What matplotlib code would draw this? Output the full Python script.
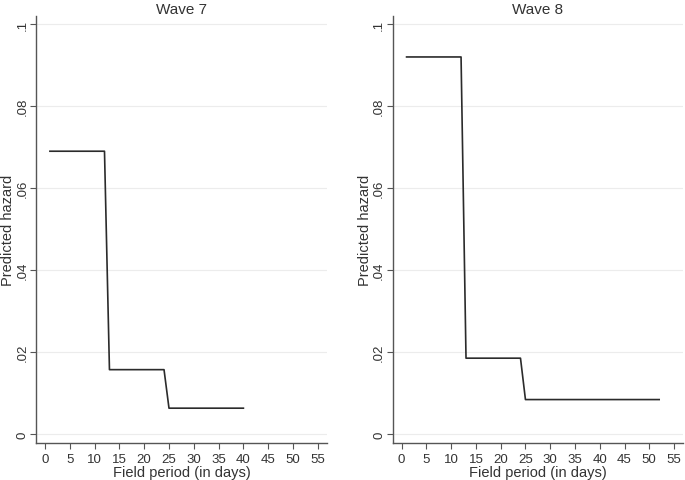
import matplotlib.pyplot as plt

plt.rcParams['font.family'] = ['Liberation Sans', 'DejaVu Sans']

days_w7 = [1, 12, 13, 24, 25, 40]
hazard_w7 = [0.069, 0.069, 0.0157, 0.0157, 0.0063, 0.0063]
days_w8 = [1, 12, 13, 24, 25, 52]
hazard_w8 = [0.092, 0.092, 0.0185, 0.0185, 0.0084, 0.0084]

titles = ["Wave 7", "Wave 8"]
xticks = list(range(0, 60, 5))
yticks = [0, 0.02, 0.04, 0.06, 0.08, 0.1]
ylabels = ["0", ".02", ".04", ".06", ".08", ".1"]

fig = plt.figure(figsize=(6.85, 4.81), dpi=100)
ax1 = fig.add_axes([0.0526, 0.0769, 0.4244, 0.8878])
ax2 = fig.add_axes([0.5733, 0.0769, 0.4237, 0.8878])

txt = '#333333'
for ax, x, y, t in [(ax1, days_w7, hazard_w7, titles[0]),
                    (ax2, days_w8, hazard_w8, titles[1])]:
    ax.plot(x, y, color='#2b2b2b', lw=1.2)
    ax.set_xlim(-1.8, 56.8)
    ax.set_ylim(-0.0022, 0.102)
    ax.set_xticks(xticks)
    ax.set_yticks(yticks)
    ax.set_yticklabels(ylabels, rotation=90, va='center')
    ax.grid(axis='y', color='#ececec', lw=0.8)
    ax.set_axisbelow(True)
    for s in ['top', 'right']:
        ax.spines[s].set_visible(False)
    for s in ['left', 'bottom']:
        ax.spines[s].set_color('#555555')
        ax.spines[s].set_linewidth(1.0)
    ax.tick_params(colors='#555555', labelcolor=txt, labelsize=9.5, length=4)
    ax.tick_params(axis='y', pad=1.5)
    ax.set_title(t, fontsize=11, color=txt, pad=2.5)
    ax.set_xlabel("Field period (in days)", fontsize=10.5, color=txt, labelpad=0)
    ax.set_ylabel("Predicted hazard", fontsize=10.5, color=txt, labelpad=1)

fig.savefig('out.png', dpi=100)
